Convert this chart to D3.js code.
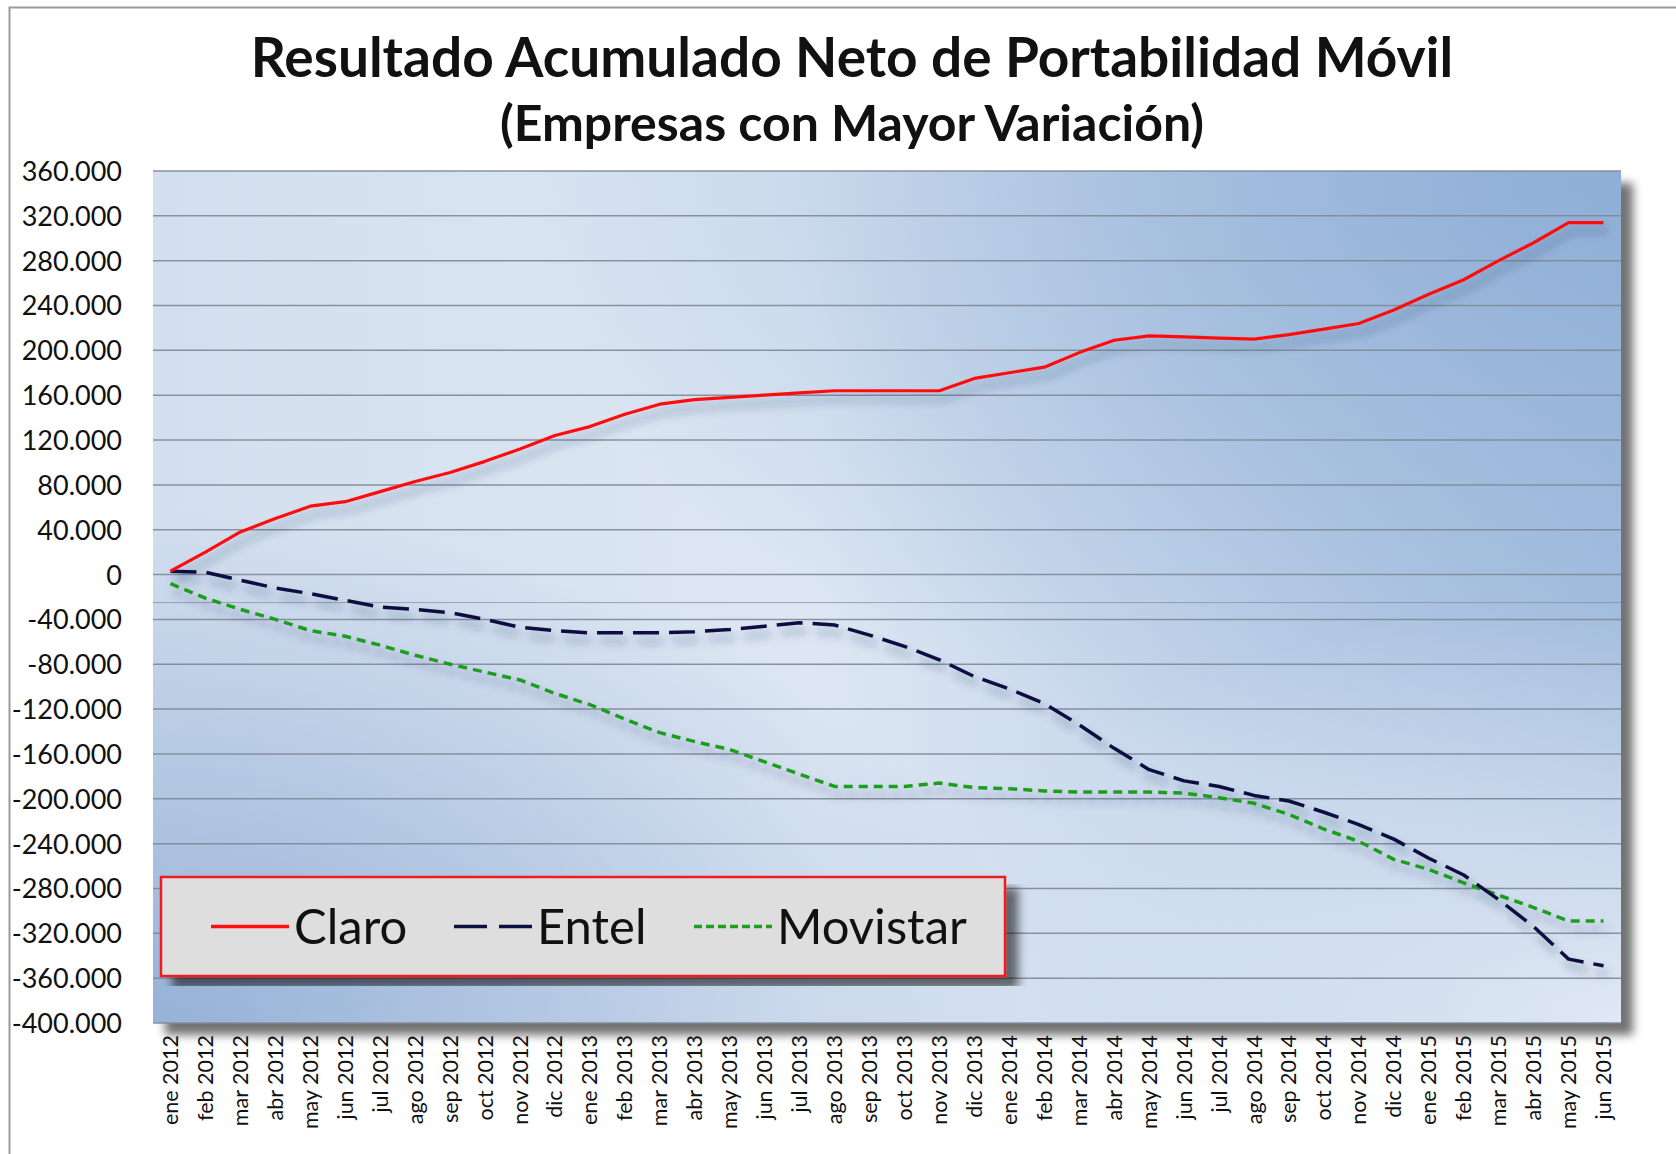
<!DOCTYPE html>
<html lang="es">
<head>
    <meta charset="utf-8">
    <title>Resultado Acumulado Neto de Portabilidad Móvil</title>
    <style>
        body { margin: 0; background: #fff; }
        svg { display: block; }
        text { font-family: Lato, "Open Sans", sans-serif; }
    </style>
</head>
<body>
    <script src="https://d3js.org/d3.v7.min.js"></script>
    <script>
    // months (x categories)
    var months = [
        "ene 2012","feb 2012","mar 2012","abr 2012","may 2012","jun 2012","jul 2012","ago 2012","sep 2012","oct 2012","nov 2012","dic 2012",
        "ene 2013","feb 2013","mar 2013","abr 2013","may 2013","jun 2013","jul 2013","ago 2013","sep 2013","oct 2013","nov 2013","dic 2013",
        "ene 2014","feb 2014","mar 2014","abr 2014","may 2014","jun 2014","jul 2014","ago 2014","sep 2014","oct 2014","nov 2014","dic 2014",
        "ene 2015","feb 2015","mar 2015","abr 2015","may 2015","jun 2015"
    ];

    var claro = [3000, 20000, 38000, 50000, 61000, 65000, 74000, 83000, 91000, 101000, 112000, 124000,
        132000, 143000, 152000, 156000, 158000, 160000, 162000, 164000, 164000, 164000, 164000, 175000,
        180000, 185000, 198000, 209000, 213000, 212000, 211000, 210000, 214000, 219000, 224000, 236000,
        250000, 263000, 280000, 296000, 314000, 314000];

    var entel = [3000, 2000, -5000, -12000, -17000, -23000, -29000, -31000, -34000, -40000, -47000, -50000,
        -52000, -52000, -52000, -51000, -49000, -46000, -43000, -45000, -54000, -64000, -76000, -91000,
        -102000, -115000, -134000, -155000, -174000, -184000, -189000, -197000, -202000, -212000, -223000, -236000,
        -253000, -268000, -290000, -314000, -343000, -349000];

    var movistar = [-8000, -21000, -31000, -40000, -50000, -55000, -63000, -72000, -80000, -87000, -94000, -106000,
        -116000, -129000, -141000, -149000, -156000, -167000, -178000, -189000, -189000, -189000, -186000, -190000,
        -191000, -193000, -194000, -194000, -194000, -195000, -199000, -204000, -214000, -227000, -238000, -254000,
        -263000, -275000, -286000, -297000, -309000, -309000];

    var seriesNames = ["Claro", "Entel", "Movistar"];
    var yTicks = d3.range(-400000, 360001, 40000);

    var W = 1676, H = 1154;
    var plot = { left: 153, right: 1621, top: 171, bottom: 1023 };

    var svg = d3.select("body").append("svg").attr("width", W).attr("height", H);

    var defs = svg.append("defs");

    // background gradients of the plot area
    var g1 = defs.append("linearGradient").attr("id", "bgH").attr("x1", 0).attr("y1", 0).attr("x2", 1).attr("y2", 0);
    g1.append("stop").attr("offset", "0%").attr("stop-color", "#d3dfee");
    g1.append("stop").attr("offset", "45%").attr("stop-color", "#dde7f3");
    g1.append("stop").attr("offset", "100%").attr("stop-color", "#a9c1e0");

    var g2 = defs.append("radialGradient").attr("id", "bgTR")
        .attr("cx", 1).attr("cy", 0).attr("r", 0.75);
    g2.append("stop").attr("offset", "0%").attr("stop-color", "#8eaed6").attr("stop-opacity", 0.95);
    g2.append("stop").attr("offset", "100%").attr("stop-color", "#8eaed6").attr("stop-opacity", 0);

    var g3 = defs.append("radialGradient").attr("id", "bgBL")
        .attr("cx", 0).attr("cy", 1).attr("r", 0.6);
    g3.append("stop").attr("offset", "0%").attr("stop-color", "#93afd6").attr("stop-opacity", 0.95);
    g3.append("stop").attr("offset", "100%").attr("stop-color", "#93afd6").attr("stop-opacity", 0);

    var g4 = defs.append("radialGradient").attr("id", "bgBR")
        .attr("cx", 1).attr("cy", 1).attr("r", 0.5);
    g4.append("stop").attr("offset", "0%").attr("stop-color", "#e6edf6").attr("stop-opacity", 0.9);
    g4.append("stop").attr("offset", "100%").attr("stop-color", "#e6edf6").attr("stop-opacity", 0);

    var sh = defs.append("filter").attr("id", "boxShadow").attr("x", "-5%").attr("y", "-5%").attr("width", "115%").attr("height", "115%");
    sh.append("feGaussianBlur").attr("in", "SourceAlpha").attr("stdDeviation", 5);
    sh.append("feOffset").attr("dx", 12).attr("dy", 12).attr("result", "b");
    sh.append("feFlood").attr("flood-color", "#000").attr("flood-opacity", 0.55);
    sh.append("feComposite").attr("in2", "b").attr("operator", "in");
    var m = sh.append("feMerge");
    m.append("feMergeNode");
    m.append("feMergeNode").attr("in", "SourceGraphic");

    var lsh = defs.append("filter").attr("id", "lineShadow").attr("x", "-10%").attr("y", "-10%").attr("width", "120%").attr("height", "130%");
    lsh.append("feGaussianBlur").attr("in", "SourceAlpha").attr("stdDeviation", 5);
    lsh.append("feOffset").attr("dx", 4).attr("dy", 8).attr("result", "b");
    lsh.append("feFlood").attr("flood-color", "#1a2a50").attr("flood-opacity", 0.4);
    lsh.append("feComposite").attr("in2", "b").attr("operator", "in");
    var m2 = lsh.append("feMerge");
    m2.append("feMergeNode");
    m2.append("feMergeNode").attr("in", "SourceGraphic");

    // outer chart border
    svg.append("rect").attr("x", 9.5).attr("y", 7.5).attr("width", W).attr("height", H)
        .attr("fill", "#fff").attr("stroke", "#9a9a9a").attr("stroke-width", 2);

    // title
    svg.append("text").attr("x", 852).attr("y", 77).attr("text-anchor", "middle")
        .attr("font-size", 55).attr("font-weight", "bold").attr("fill", "#111")
        .text("Resultado Acumulado Neto de Portabilidad Móvil");
    svg.append("text").attr("x", 852).attr("y", 141).attr("text-anchor", "middle")
        .attr("font-size", 50).attr("font-weight", "bold").attr("fill", "#111")
        .text("(Empresas con Mayor Variación)");

    // scales
    var x = d3.scaleBand().domain(months).range([plot.left, plot.right]);
    var y = d3.scaleLinear().domain([-400000, 360000]).range([plot.bottom, plot.top]);
    var cx = function(d) { return x(d) + x.bandwidth() / 2; };

    // plot background with shadow
    var pw = plot.right - plot.left, ph = plot.bottom - plot.top;
    svg.append("rect").attr("x", plot.left).attr("y", plot.top).attr("width", pw).attr("height", ph)
        .attr("fill", "url(#bgH)").attr("filter", "url(#boxShadow)");
    ["bgTR", "bgBL", "bgBR"].forEach(function(id) {
        svg.append("rect").attr("x", plot.left).attr("y", plot.top).attr("width", pw).attr("height", ph)
            .attr("fill", "url(#" + id + ")");
    });

    // gridlines (plus the faint stray line the original shows just under zero)
    svg.append("g").selectAll("line").data(yTicks.concat([-25000])).enter().append("line")
        .attr("x1", plot.left).attr("x2", plot.right)
        .attr("y1", function(d) { return y(d); }).attr("y2", function(d) { return y(d); })
        .attr("stroke", "#7f8a99").attr("stroke-width", function(d) { return d === -25000 ? 1 : 1.5; })
        .attr("opacity", function(d) { return d === -25000 ? 0.7 : 0.9; });

    // y axis
    var loc = d3.formatLocale({ decimal: ",", thousands: ".", grouping: [3], currency: ["$", ""], minus: "-" });
    var fmt = loc.format(",d");
    var yAxis = svg.append("g").attr("transform", "translate(" + (plot.left - 28) + ",0)")
        .call(d3.axisLeft(y).tickValues(yTicks).tickFormat(fmt).tickSize(0));
    yAxis.select(".domain").remove();
    yAxis.selectAll("text").attr("font-size", 27).attr("fill", "#111")
        .attr("font-family", "Lato, sans-serif").attr("dy", "0.35em");

    // x axis
    var xAxis = svg.append("g").attr("transform", "translate(0," + (plot.bottom + 12) + ")")
        .call(d3.axisBottom(x).tickSize(0));
    xAxis.select(".domain").remove();
    xAxis.selectAll("text").attr("font-size", 21.5).attr("fill", "#111")
        .attr("font-family", "Lato, sans-serif")
        .attr("text-anchor", "end").attr("transform", "rotate(-90)")
        .attr("x", 0).attr("y", 0).attr("dx", 0).attr("dy", "0.35em");

    // lines
    var styles = {
        Claro: { color: "#ff1010", dash: null, width: 3.2 },
        Entel: { color: "#0c1040", dash: "26,10", width: 3.5 },
        Movistar: { color: "#1f9e1f", dash: "9,6", width: 3.5 }
    };
    var data = { Claro: claro, Entel: entel, Movistar: movistar };

    var line = d3.line().x(function(d, i) { return cx(months[i]); }).y(function(d) { return y(d); });

    var lines = svg.append("g").attr("filter", "url(#lineShadow)");
    ["Movistar", "Entel", "Claro"].forEach(function(name) {
        lines.append("path").datum(data[name])
            .attr("d", line)
            .attr("fill", "none")
            .attr("stroke", styles[name].color)
            .attr("stroke-width", styles[name].width)
            .attr("stroke-dasharray", styles[name].dash)
            .attr("stroke-linejoin", "round");
    });

    // legend
    var leg = { x: 161, y: 877, w: 844, h: 99 };
    svg.append("rect").attr("x", leg.x).attr("y", leg.y).attr("width", leg.w).attr("height", leg.h)
        .attr("fill", "#dedede").attr("stroke", "#ee1c24").attr("stroke-width", 2.5)
        .attr("filter", "url(#boxShadow)");

    var legX = [211, 454, 694];
    var legDash = { Claro: null, Entel: "33,12,33,20", Movistar: "8,4" };
    seriesNames.forEach(function(name, i) {
        var lx = legX[i], ly = leg.y + leg.h / 2;
        svg.append("line").attr("x1", lx).attr("x2", lx + 78).attr("y1", ly).attr("y2", ly)
            .attr("stroke", styles[name].color).attr("stroke-width", 3.5)
            .attr("stroke-dasharray", legDash[name]);
        svg.append("text").attr("x", lx + 83).attr("y", ly).attr("dy", "0.36em")
            .attr("font-size", 49).attr("fill", "#111").text(name);
    });
    </script>
</body>
</html>
